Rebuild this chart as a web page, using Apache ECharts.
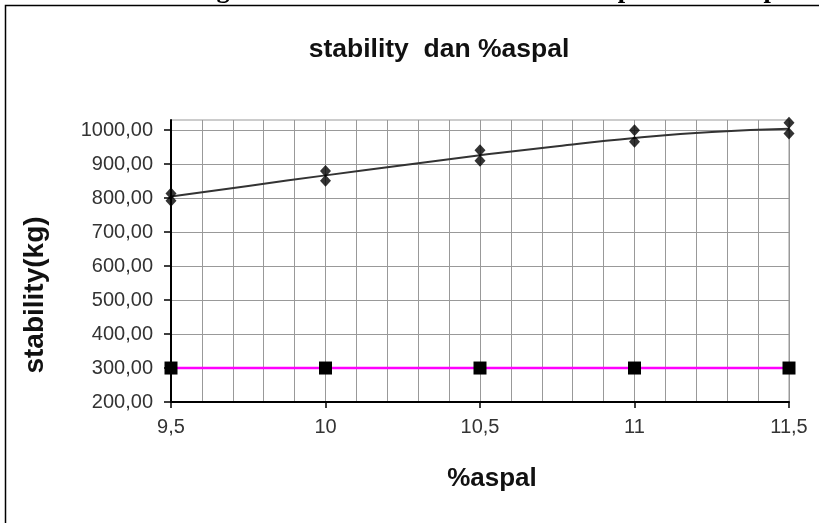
<!DOCTYPE html>
<html>
<head>
<meta charset="utf-8">
<script src="https://cdn.jsdelivr.net/npm/echarts@6/dist/echarts.min.js"></script>
<style>html,body{margin:0;padding:0;background:#fff;}#c{width:819px;height:523px;}</style>
</head>
<body>
<div id="c"></div>
<script>
// Data
var kadarAspal = [9.5, 10, 10.5, 11, 11.5];
var stabilityA = [814, 880, 941, 1000, 1022];
var stabilityB = [792, 851, 910, 966, 990];
var trendX = [9.5, 9.75, 10, 10.25, 10.5, 10.75, 11, 11.25, 11.5];
var trendY = [805, 836, 867, 897, 926, 953, 977, 995, 1004];
var batasMin = [300, 300, 300, 300, 300];
var yTicks = [200, 300, 400, 500, 600, 700, 800, 900, 1000];

var pts = [];
kadarAspal.forEach(function (x, i) { pts.push([x, stabilityA[i]]); pts.push([x, stabilityB[i]]); });
var trend = trendX.map(function (x, i) { return [x, trendY[i]]; });
var batas = kadarAspal.map(function (x, i) { return [x, batasMin[i]]; });

var chart = echarts.init(document.getElementById('c'), null, {renderer: 'canvas'});
chart.setOption({
  animation: false,
  backgroundColor: '#ffffff',
  title: {
    text: 'stability  dan %aspal',
    left: 434, top: 31, textAlign: 'center',
    textStyle: {fontFamily: 'Liberation Sans', fontWeight: 'bold', fontSize: 26.5, color: '#111'}
  },
  graphic: [
    {type: 'text', x: 8, y: 3.5, z: 1, style: {text: 'Gambar 3. Hubungan antara Stabilitas dan Kadar Aspal untuk Aspal', font: 'bold 26.5px "Liberation Serif"', fill: '#000', verticalAlign: 'bottom'}},
    {type: 'rect', z: 2, shape: {x: 5.5, y: 5.5, width: 900, height: 600}, style: {fill: 'none', stroke: '#000', lineWidth: 1.5}, silent: true},
    {type: 'text', x: 35, y: 295, rotation: Math.PI / 2, style: {text: 'stability(kg)', font: 'bold 28px "Liberation Sans"', fill: '#111', align: 'center', verticalAlign: 'middle'}},
    {type: 'text', x: 492, y: 479, style: {text: '%aspal', font: 'bold 26px "Liberation Sans"', fill: '#111', align: 'center', verticalAlign: 'middle'}}
  ],
  grid: {left: 171, right: 30, top: 120, bottom: 121, show: true, borderColor: '#999', borderWidth: 1},
  xAxis: {
    type: 'value', min: 9.5, max: 11.5, interval: 0.5,
    axisLine: {show: true, onZero: false, lineStyle: {color: '#000', width: 2}},
    axisTick: {show: true, length: 6, lineStyle: {color: '#000', width: 1.5}},
    axisLabel: {margin: 15, fontFamily: 'Liberation Sans', fontSize: 20, color: '#333',
      formatter: function (v) { return String(v).replace('.', ','); }},
    splitLine: {show: true, lineStyle: {color: '#999', width: 1}},
    minorTick: {show: false, splitNumber: 5},
    minorSplitLine: {show: true, lineStyle: {color: '#999', width: 1}}
  },
  yAxis: {
    type: 'value', min: 200, max: 1030, interval: 100,
    axisLine: {show: true, onZero: false, lineStyle: {color: '#000', width: 2}},
    axisTick: {show: true, length: 7, customValues: yTicks, lineStyle: {color: '#000', width: 1.5}},
    axisLabel: {margin: 18, fontFamily: 'Liberation Sans', fontSize: 20, color: '#333', customValues: yTicks,
      formatter: function (v) { return v.toFixed(2).replace('.', ','); }},
    splitLine: {show: true, lineStyle: {color: '#999', width: 1}}
  },
  series: [
    {type: 'line', data: trend, smooth: true, showSymbol: false, symbol: 'none',
      lineStyle: {color: '#333', width: 2}, z: 3},
    {type: 'scatter', data: pts, symbol: 'diamond', symbolSize: [11, 12],
      itemStyle: {color: '#000'}, z: 4},
    {type: 'line', data: batas, symbol: 'rect', symbolSize: 13, showSymbol: true,
      lineStyle: {color: '#ff00ff', width: 2.5}, itemStyle: {color: '#000'}, z: 5}
  ]
});
</script>
</body>
</html>
